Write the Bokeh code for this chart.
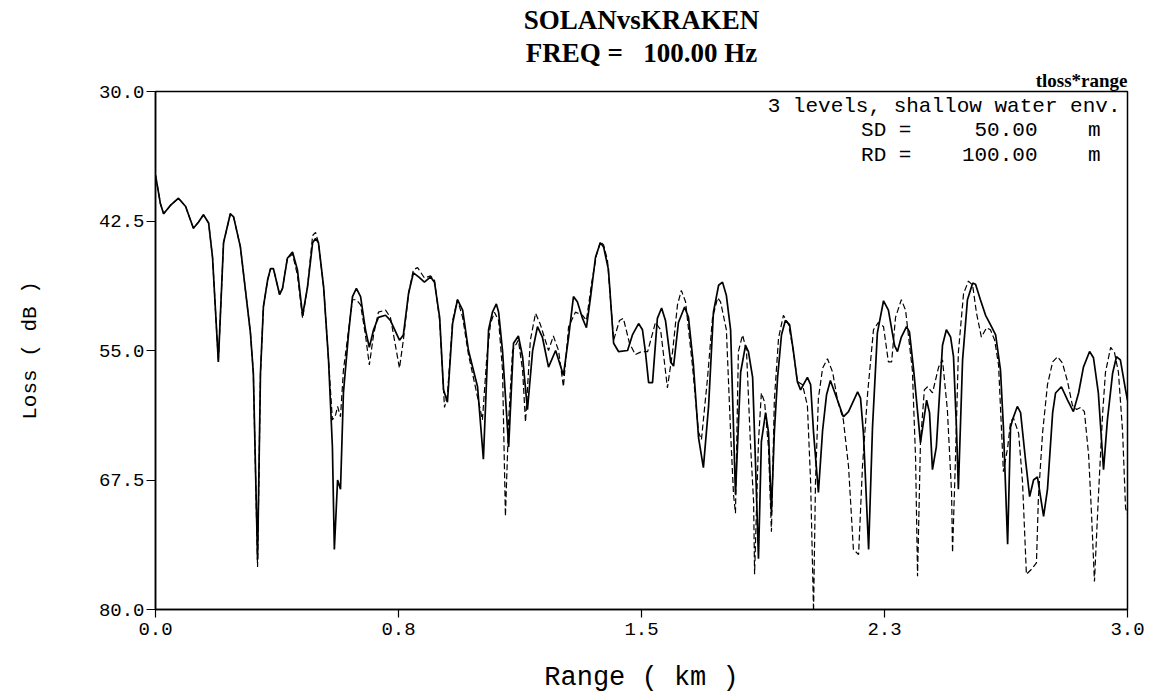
from bokeh.plotting import figure
from bokeh.models import Range1d, FixedTicker, Label, Title
from bokeh.embed import file_html
from bokeh.resources import INLINE

# ---- data (range in km, loss in dB) ----
solan_range = [0.000, 0.003, 0.015, 0.025, 0.046, 0.071, 0.093, 0.117, 0.133, 0.148, 0.164, 0.176, 0.194, 0.210,
               0.231, 0.241, 0.262, 0.293, 0.302, 0.315, 0.324, 0.333, 0.346, 0.355, 0.364, 0.383, 0.392, 0.407,
               0.423, 0.438, 0.454, 0.469, 0.485, 0.494, 0.503, 0.519, 0.534, 0.546, 0.552, 0.562, 0.571, 0.580,
               0.596, 0.608, 0.620, 0.633, 0.648, 0.660, 0.673, 0.688, 0.710, 0.725, 0.753, 0.765, 0.781, 0.796,
               0.812, 0.830, 0.849, 0.861, 0.877, 0.889, 0.901, 0.917, 0.932, 0.948, 0.966, 0.994, 1.012, 1.028,
               1.040, 1.052, 1.059, 1.071, 1.090, 1.105, 1.120, 1.133, 1.148, 1.164, 1.179, 1.194, 1.213, 1.235,
               1.259, 1.275, 1.290, 1.302, 1.318, 1.330, 1.343, 1.358, 1.373, 1.383, 1.398, 1.414, 1.429, 1.457,
               1.472, 1.491, 1.503, 1.512, 1.522, 1.534, 1.549, 1.562, 1.574, 1.590, 1.599, 1.614, 1.633, 1.645,
               1.660, 1.676, 1.691, 1.707, 1.722, 1.738, 1.750, 1.762, 1.775, 1.790, 1.806, 1.821, 1.830, 1.843,
               1.852, 1.861, 1.870, 1.883, 1.892, 1.901, 1.910, 1.920, 1.932, 1.944, 1.957, 1.969, 1.981, 1.991,
               2.012, 2.022, 2.031, 2.046, 2.059, 2.071, 2.083, 2.105, 2.123, 2.139, 2.167, 2.176, 2.185, 2.201,
               2.213, 2.228, 2.247, 2.262, 2.281, 2.290, 2.302, 2.318, 2.327, 2.340, 2.361, 2.380, 2.389, 2.398,
               2.410, 2.429, 2.441, 2.454, 2.463, 2.472, 2.478, 2.491, 2.506, 2.522, 2.531, 2.546, 2.562, 2.577,
               2.593, 2.608, 2.617, 2.630, 2.639, 2.645, 2.660, 2.670, 2.685, 2.698, 2.710, 2.722, 2.728, 2.741,
               2.753, 2.769, 2.778, 2.796, 2.815, 2.833, 2.849, 2.864, 2.883, 2.895, 2.910, 2.926, 2.938, 2.954,
               2.966, 2.978, 2.994, 3.000]
solan_loss = [38.1, 38.6, 40.8, 41.8, 41.0, 40.3, 41.1, 43.2, 42.6, 41.9, 42.7, 46.0, 56.1, 44.6,
              41.8, 42.1, 45.0, 53.3, 57.2, 75.2, 57.2, 50.8, 48.2, 47.1, 47.1, 49.6, 49.0, 46.1,
              45.5, 47.2, 51.6, 48.9, 44.6, 44.2, 44.6, 48.9, 55.9, 64.3, 74.2, 67.5, 68.4, 59.1,
              53.3, 49.8, 49.0, 49.8, 53.0, 54.7, 53.0, 51.8, 51.6, 52.1, 54.0, 53.5, 49.5, 47.5,
              47.9, 48.4, 47.9, 48.4, 51.8, 58.8, 60.0, 52.4, 50.1, 51.1, 55.0, 58.5, 65.5, 53.0,
              51.3, 50.5, 51.3, 55.0, 64.3, 54.3, 53.6, 55.6, 60.7, 55.0, 52.7, 53.7, 56.6, 55.0,
              57.4, 53.7, 49.8, 50.3, 51.9, 52.8, 49.8, 46.0, 44.6, 45.0, 47.2, 54.3, 55.1, 55.0,
              53.5, 52.4, 53.0, 55.1, 58.1, 58.1, 51.9, 50.9, 52.1, 56.1, 56.5, 52.3, 50.8, 51.8,
              56.3, 63.4, 66.3, 60.4, 51.3, 48.7, 48.4, 49.7, 53.0, 68.9, 57.1, 54.5, 55.1, 57.6,
              66.0, 75.1, 63.8, 61.0, 62.9, 70.6, 62.9, 57.6, 53.5, 52.1, 52.5, 55.1, 58.0, 58.8,
              57.6, 58.3, 62.9, 68.7, 62.7, 59.3, 57.9, 59.8, 61.4, 60.9, 59.0, 59.6, 63.0, 74.2,
              62.4, 53.3, 50.2, 51.1, 54.5, 55.1, 53.7, 52.7, 53.2, 56.9, 63.9, 59.8, 61.0, 66.5,
              64.3, 54.5, 53.0, 53.7, 55.6, 62.4, 68.4, 55.9, 50.1, 48.5, 48.6, 50.1, 51.6, 52.5,
              53.5, 56.9, 62.4, 73.7, 62.4, 61.7, 60.4, 61.0, 65.5, 69.1, 67.5, 67.2, 68.4, 71.0,
              68.4, 61.0, 59.1, 58.5, 59.8, 60.9, 59.1, 56.6, 55.1, 55.7, 59.1, 66.5, 61.7, 57.2,
              55.6, 55.9, 58.8, 59.8]

kraken_range = [0.000, 0.003, 0.015, 0.025, 0.046, 0.071, 0.093, 0.117, 0.133, 0.148, 0.164, 0.176, 0.194, 0.210,
                0.231, 0.241, 0.262, 0.293, 0.302, 0.315, 0.324, 0.333, 0.346, 0.355, 0.364, 0.383, 0.392, 0.407,
                0.423, 0.438, 0.454, 0.469, 0.485, 0.494, 0.503, 0.519, 0.534, 0.546, 0.556, 0.562, 0.571, 0.580,
                0.596, 0.608, 0.620, 0.633, 0.648, 0.660, 0.673, 0.688, 0.710, 0.725, 0.753, 0.765, 0.781, 0.796,
                0.809, 0.830, 0.849, 0.861, 0.877, 0.892, 0.901, 0.917, 0.932, 0.948, 0.966, 0.994, 1.009, 1.022,
                1.034, 1.046, 1.059, 1.071, 1.080, 1.090, 1.102, 1.120, 1.133, 1.142, 1.157, 1.173, 1.188, 1.213,
                1.228, 1.244, 1.259, 1.275, 1.296, 1.318, 1.330, 1.346, 1.361, 1.373, 1.383, 1.395, 1.414, 1.432,
                1.444, 1.463, 1.481, 1.500, 1.519, 1.543, 1.559, 1.580, 1.596, 1.611, 1.623, 1.636, 1.657, 1.676,
                1.685, 1.704, 1.719, 1.735, 1.744, 1.762, 1.775, 1.784, 1.790, 1.799, 1.812, 1.824, 1.836, 1.846,
                1.849, 1.861, 1.870, 1.880, 1.892, 1.901, 1.910, 1.923, 1.938, 1.954, 1.969, 1.981, 1.997, 2.012,
                2.022, 2.031, 2.037, 2.046, 2.059, 2.074, 2.090, 2.105, 2.123, 2.139, 2.154, 2.170, 2.182, 2.198,
                2.216, 2.231, 2.247, 2.262, 2.272, 2.284, 2.302, 2.315, 2.336, 2.346, 2.352, 2.361, 2.373, 2.383,
                2.398, 2.417, 2.429, 2.444, 2.457, 2.460, 2.469, 2.478, 2.494, 2.509, 2.522, 2.534, 2.549, 2.565,
                2.577, 2.590, 2.602, 2.617, 2.630, 2.639, 2.648, 2.664, 2.676, 2.688, 2.704, 2.719, 2.725, 2.738,
                2.753, 2.769, 2.784, 2.799, 2.815, 2.830, 2.843, 2.855, 2.867, 2.880, 2.889, 2.898, 2.910, 2.923,
                2.932, 2.948, 2.960, 2.972, 2.985, 2.994, 3.000]
kraken_loss = [38.1, 38.6, 40.8, 41.8, 41.0, 40.3, 41.1, 43.2, 42.6, 41.9, 42.7, 46.0, 56.1, 44.6,
               41.8, 42.1, 45.0, 53.3, 57.2, 75.9, 57.2, 50.8, 48.2, 47.1, 47.1, 49.6, 49.0, 46.1,
               45.7, 47.7, 51.9, 48.9, 43.9, 43.6, 44.6, 48.9, 55.9, 61.7, 61.2, 60.4, 61.4, 56.9,
               53.0, 50.1, 50.1, 50.6, 53.5, 56.4, 53.5, 51.3, 51.1, 51.8, 56.7, 54.0, 49.5, 47.2,
               47.0, 48.0, 47.8, 48.2, 52.1, 60.5, 59.3, 52.1, 50.1, 51.8, 55.4, 59.5, 61.7, 55.9,
               52.4, 51.3, 52.1, 56.9, 71.0, 61.7, 55.0, 54.0, 56.9, 61.9, 54.0, 51.4, 52.5, 55.0,
               53.6, 55.0, 58.5, 52.7, 51.3, 51.6, 52.1, 48.5, 45.8, 44.5, 44.8, 46.3, 54.0, 52.1,
               51.9, 54.3, 55.4, 55.1, 55.1, 52.3, 53.0, 58.6, 55.1, 50.6, 49.2, 50.3, 56.4, 62.9,
               63.6, 57.6, 51.9, 49.9, 50.3, 53.0, 62.9, 68.9, 70.7, 55.1, 53.5, 55.0, 63.8, 69.6,
               76.6, 63.8, 59.1, 60.0, 64.4, 72.5, 59.8, 53.8, 51.6, 52.5, 55.1, 58.0, 58.3, 60.3,
               67.7, 80.2, 67.7, 59.6, 56.7, 55.8, 57.1, 59.8, 61.7, 66.2, 74.2, 74.7, 66.2, 59.1,
               53.0, 52.3, 52.7, 56.1, 56.1, 51.8, 50.1, 51.1, 56.9, 65.5, 76.8, 63.9, 58.8, 58.5,
               59.1, 56.6, 55.9, 60.7, 68.7, 74.5, 65.5, 55.2, 49.5, 48.3, 48.7, 51.4, 53.7, 52.8,
               53.0, 54.0, 56.4, 66.7, 64.4, 61.9, 61.5, 63.0, 67.7, 76.6, 76.1, 75.5, 69.2, 62.9,
               58.3, 56.1, 55.6, 56.2, 58.0, 60.3, 60.7, 60.5, 60.9, 65.1, 70.8, 77.3, 69.2, 61.2,
               57.1, 54.7, 55.2, 57.1, 62.9, 70.2, 70.8]

x_ticks = [0.0, 0.75, 1.5, 2.25, 3.0]
x_tick_labels = ["0.0", "0.8", "1.5", "2.3", "3.0"]
y_ticks = [30.0, 42.5, 55.0, 67.5, 80.0]
y_tick_labels = ["30.0", "42.5", "55.0", "67.5", "80.0"]

NB = "\u00a0"
title_1 = "SOLANvsKRAKEN"
title_2 = "FREQ =   100.00 Hz".replace(" ", NB)
corner_note = "tloss*range"
info_lines = [s.replace(" ", NB) for s in
              ["3 levels, shallow water env.", "SD =     50.00    m", "RD =    100.00    m"]]
info_y = [31.4, 33.8, 36.2]
x_title = "Range ( km )"
y_title = "Loss ( dB )"

SERIF = "Liberation Serif"
MONO = "Liberation Mono"

p = figure(width=1155, height=695, output_backend="svg", toolbar_location=None,
           x_range=Range1d(0.0, 3.0), y_range=Range1d(80.0, 30.0), title=None,
           min_border_left=155, min_border_right=28, min_border_top=91, min_border_bottom=85)
p.background_fill_color = "white"
p.border_fill_color = "white"
p.outline_line_color = "black"
p.outline_line_width = 1.5
p.xgrid.visible = False
p.ygrid.visible = False

p.line(solan_range, solan_loss, line_color="black", line_width=1.7)
p.line(kraken_range, kraken_loss, line_color="black", line_width=1.2, line_dash="6 3")

xa = p.xaxis[0]
xa.ticker = FixedTicker(ticks=x_ticks)
xa.major_label_overrides = dict(zip(x_ticks, x_tick_labels))
xa.minor_tick_line_color = None
xa.major_tick_in = 0
xa.major_tick_out = 8
xa.major_label_standoff = 5
xa.axis_line_color = "black"
xa.axis_line_width = 1.5
xa.major_tick_line_width = 1.2
xa.major_label_text_font = MONO
xa.major_label_text_font_size = "19px"
xa.major_label_text_color = "black"
xa.axis_label = x_title
xa.axis_label_text_font = MONO
xa.axis_label_text_font_size = "27px"
xa.axis_label_text_font_style = "normal"
xa.axis_label_text_color = "black"
xa.axis_label_standoff = 25

ya = p.yaxis[0]
ya.ticker = FixedTicker(ticks=y_ticks)
ya.major_label_overrides = dict(zip(y_ticks, y_tick_labels))
ya.minor_tick_line_color = None
ya.major_tick_in = 0
ya.major_tick_out = 9
ya.major_label_standoff = 2
ya.axis_line_color = "black"
ya.axis_line_width = 1.5
ya.major_tick_line_width = 1.2
ya.major_label_text_font = MONO
ya.major_label_text_font_size = "19px"
ya.major_label_text_color = "black"
ya.axis_label = y_title
ya.axis_label_text_font = MONO
ya.axis_label_text_font_size = "21px"
ya.axis_label_text_font_style = "normal"
ya.axis_label_text_color = "black"
ya.axis_label_standoff = 54

# titles (first added sits closest to the frame)
p.add_layout(Title(text=corner_note, align="right", text_font=SERIF, text_font_style="bold",
                   text_font_size="19px", text_color="black", standoff=1), "above")
p.add_layout(Title(text=title_2, align="center", text_font=SERIF, text_font_style="bold",
                   text_font_size="27px", text_color="black", standoff=0), "above")
p.add_layout(Title(text=title_1, align="center", text_font=SERIF, text_font_style="bold",
                   text_font_size="27px", text_color="black", standoff=2), "above")

for i, (txt, yy) in enumerate(zip(info_lines, info_y)):
    p.add_layout(Label(x=3.0, y=yy, text=txt, text_align="right", text_baseline="middle",
                       x_offset=(-7 if i == 0 else -27), text_font=MONO, text_font_size="21px",
                       text_color="black"))

open("out.html", "w").write(file_html(p, INLINE))
